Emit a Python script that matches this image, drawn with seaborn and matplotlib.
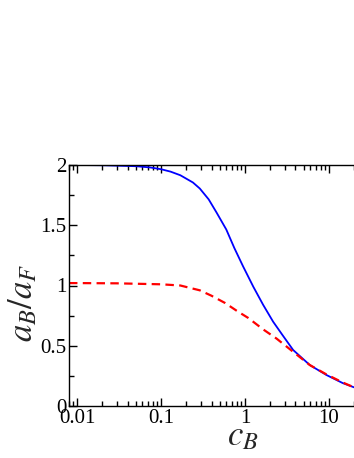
import numpy as np
import pandas as pd
import matplotlib
matplotlib.use('Agg')
import matplotlib.pyplot as plt
import seaborn as sns
from matplotlib.ticker import LogLocator, MultipleLocator, FixedLocator, FixedFormatter

# ================= 数据 =================
c_blue = [0.008, 0.01, 0.02, 0.05, 0.074, 0.1, 0.13, 0.17, 0.24, 0.29, 0.37, 0.46, 0.6,
          0.75, 0.95, 1.26, 1.65, 2.17, 2.8, 3.76, 5.94, 9.4, 14.7, 20.0]
a_blue = [2.0, 2.0, 1.998, 1.99, 1.98, 1.965, 1.945, 1.915, 1.855, 1.805, 1.715, 1.605, 1.465,
          1.31, 1.16, 0.99, 0.84, 0.70, 0.59, 0.465, 0.34, 0.257, 0.19, 0.155]

c_red = [0.008, 0.01, 0.03, 0.1, 0.17, 0.29, 0.4, 0.58, 0.8, 1.1, 1.65, 2.38,
         3.76, 5.94, 9.4, 14.7, 20.0]
a_red = [1.02, 1.02, 1.018, 1.01, 1.0, 0.96, 0.915, 0.855, 0.79, 0.73, 0.636, 0.56,
         0.45, 0.34, 0.262, 0.195, 0.155]

x_ticks = [0.01, 0.1, 1, 10]
x_ticklabels = ['0.01', '0.1', '1', '10']
y_ticks = [0, 0.5, 1, 1.5, 2]
y_ticklabels = ['0', '0.5', '1', '1.5', '2']

sns.set_style('ticks')
plt.rcParams['font.family'] = ['Liberation Serif', 'DejaVu Serif']
plt.rcParams['mathtext.fontset'] = 'stix'

df_blue = pd.DataFrame({'c': c_blue, 'a': a_blue})
df_red = pd.DataFrame({'c': c_red, 'a': a_red})

fig = plt.figure(figsize=(3.54, 4.58), dpi=100)
ax = fig.add_axes([69 / 354, 1 - 406 / 458, (354 - 69) / 354, 241 / 458])

sns.lineplot(data=df_blue, x='c', y='a', ax=ax, color='#0000ff', linewidth=1.3)
sns.lineplot(data=df_red, x='c', y='a', ax=ax, color='#ff0000', linewidth=1.6,
             dashes=False, linestyle=(0, (3.8, 2.4)))

ax.set_xscale('log')
ax.set_xlim(0.008, 20)
ax.set_ylim(0, 2)

ax.xaxis.set_major_locator(FixedLocator(x_ticks))
ax.xaxis.set_major_formatter(FixedFormatter(x_ticklabels))
ax.xaxis.set_minor_locator(LogLocator(base=10, subs=np.arange(2, 10)))
ax.yaxis.set_major_locator(FixedLocator(y_ticks))
ax.yaxis.set_major_formatter(FixedFormatter(y_ticklabels))
ax.yaxis.set_minor_locator(MultipleLocator(0.25))

ax.tick_params(which='both', direction='in', top=True, right=False,
               width=1.0, labelsize=15, colors='black', pad=2)
ax.tick_params(which='major', length=6)
ax.tick_params(which='minor', length=3.5)

for side in ['left', 'bottom', 'top']:
    ax.spines[side].set_linewidth(1.0)
    ax.spines[side].set_color('black')
ax.spines['right'].set_visible(False)

ax.set_xlabel(r'$c_B$', fontsize=25)
ax.set_ylabel(r'$a_B/a_F$', fontsize=25)
ax.xaxis.set_label_coords(0.61, -0.06)
ax.yaxis.set_label_coords(-0.10, 0.43)

fig.savefig('out.png', dpi=100)
plt.close(fig)
